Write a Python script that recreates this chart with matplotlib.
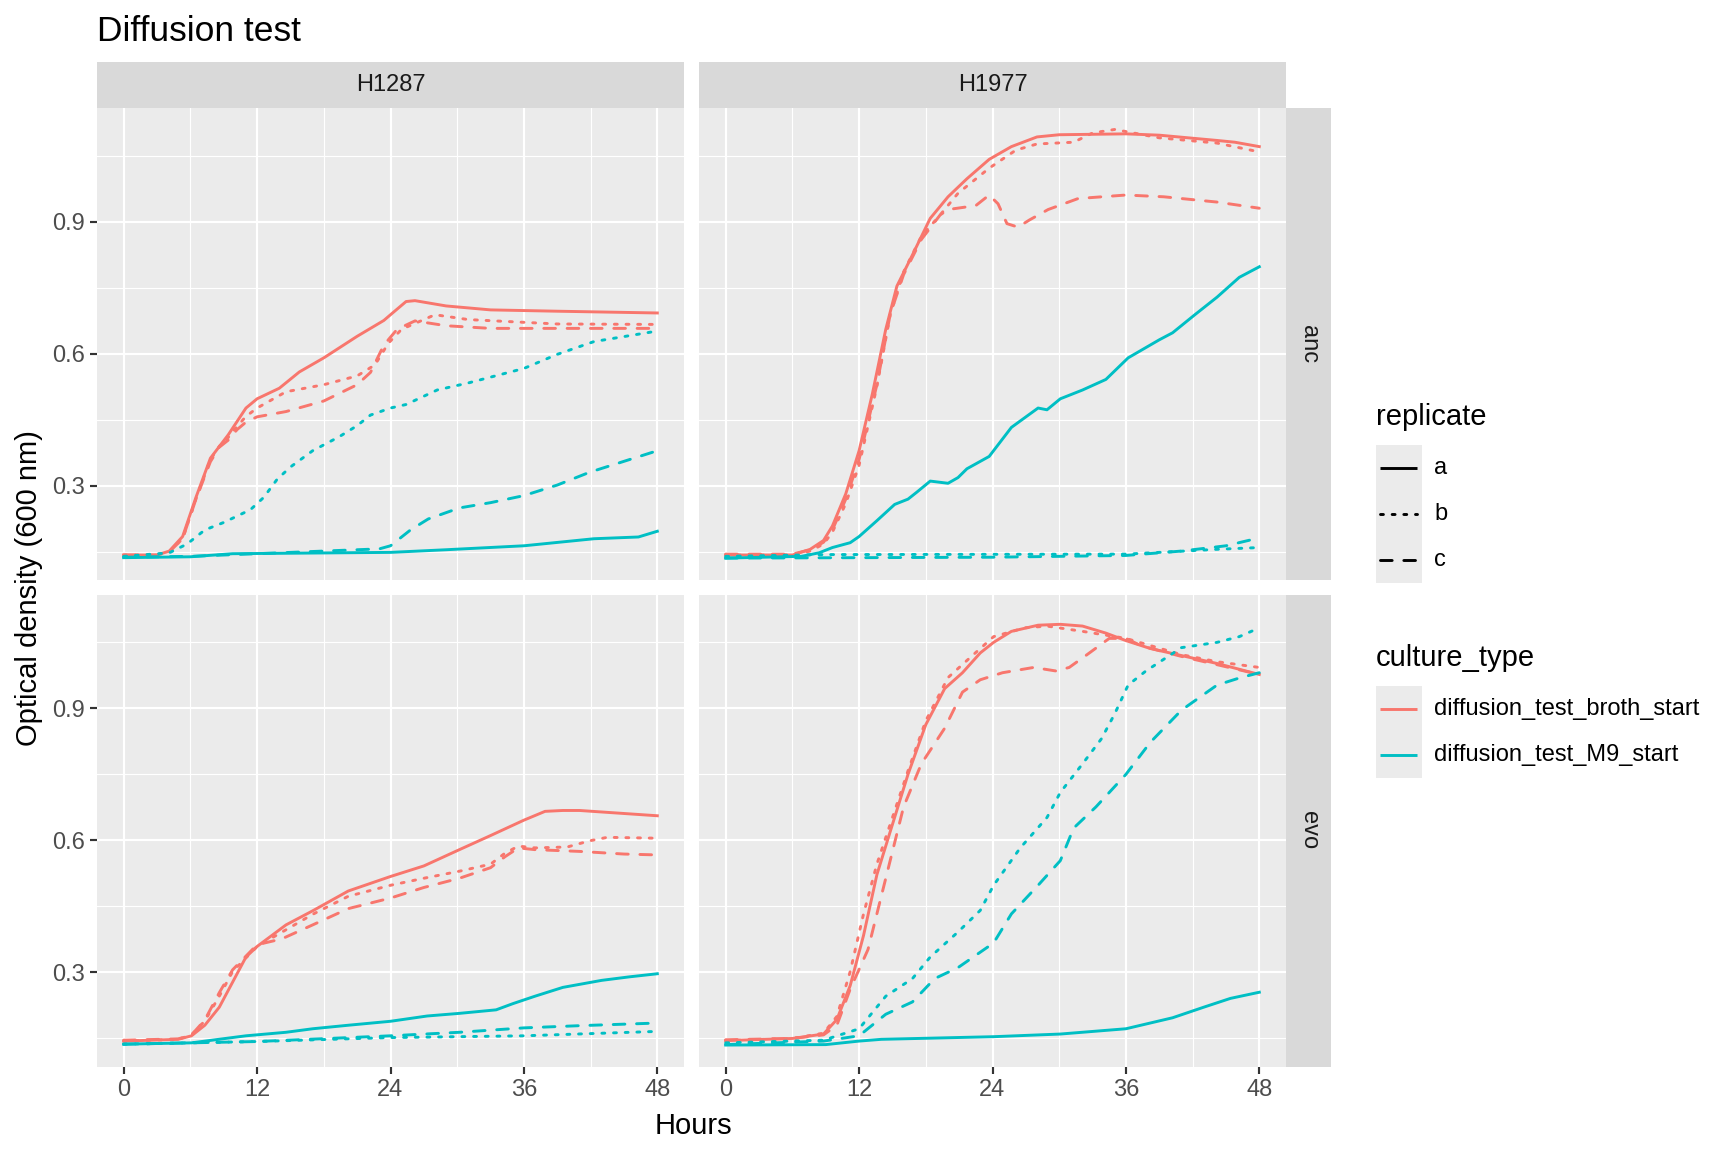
import matplotlib
matplotlib.use('Agg')
import matplotlib.pyplot as plt
from matplotlib.patches import Rectangle
from matplotlib.lines import Line2D
from matplotlib.ticker import FixedLocator

plt.rcParams['font.family'] = ['Liberation Sans', 'DejaVu Sans']

# ---------------- data (hours, OD600) ----------------
strains = ['H1287', 'H1977']
types = ['anc', 'evo']
culture_types = ['diffusion_test_broth_start', 'diffusion_test_M9_start']
replicates = ['a', 'b', 'c']
x_ticks = [0, 12, 24, 36, 48]
y_ticks = [0.3, 0.6, 0.9]
title = 'Diffusion test'
x_label = 'Hours'
y_label = 'Optical density (600 nm)'

# H1287 / anc
H1287_anc_broth_a = [(0,0.143),(3,0.143),(4.1,0.152),(5.3,0.185),(6.5,0.274),(7.8,0.363),(9.4,0.416),(11,0.477),(12,0.498),(14,0.522),(15.8,0.559),(18,0.591),(21,0.64),(23.4,0.676),(24,0.689),(25.4,0.719),(26.2,0.721),(29,0.709),(33,0.70),(39,0.697),(48,0.693)]
H1287_anc_broth_b = [(0,0.143),(3,0.143),(4.1,0.150),(5.3,0.180),(6.5,0.27),(7.8,0.36),(8.6,0.39),(9.4,0.41),(10.2,0.435),(11,0.458),(12,0.477),(14.6,0.514),(18,0.53),(21,0.55),(22.6,0.575),(23.8,0.624),(25,0.656),(28,0.689),(31,0.678),(39,0.668),(48,0.667)]
H1287_anc_broth_c = [(0,0.143),(3,0.143),(4.1,0.150),(5.3,0.18),(6.5,0.27),(7.8,0.355),(8.6,0.388),(9.4,0.404),(10.2,0.428),(11,0.445),(12,0.457),(14.6,0.469),(18,0.493),(21,0.53),(22.2,0.558),(23.4,0.62),(24.6,0.656),(26.2,0.675),(29,0.664),(33,0.658),(48,0.658)]
H1287_anc_M9_a = [(0,0.137),(6,0.139),(9.8,0.146),(24,0.149),(29,0.155),(36,0.164),(42.3,0.18),(46.3,0.184),(48,0.197)]
H1287_anc_M9_b = [(0,0.14),(4.1,0.148),(5.7,0.168),(7.3,0.2),(9,0.217),(11.4,0.246),(12.6,0.274),(13.8,0.315),(15,0.343),(17,0.38),(19.4,0.412),(21,0.437),(22.2,0.461),(24,0.477),(25.4,0.485),(28.2,0.518),(31,0.534),(36,0.567),(39,0.599),(42.3,0.628),(48,0.652)]
H1287_anc_M9_c = [(0,0.138),(6,0.14),(12,0.146),(18,0.152),(23,0.157),(24,0.164),(25.8,0.2),(27.4,0.225),(30.2,0.25),(33,0.262),(36,0.278),(39,0.302),(41.9,0.331),(48,0.38)]

# H1977 / anc
H1977_anc_broth_a = [(0,0.143),(6,0.143),(7.6,0.156),(8.8,0.176),(9.6,0.209),(10.8,0.282),(12,0.38),(13.2,0.51),(14.4,0.656),(15.4,0.754),(16.8,0.825),(18.4,0.908),(20,0.957),(21.7,0.998),(23.7,1.042),(25.7,1.071),(28,1.093),(30,1.098),(36,1.1),(39,1.097),(44.2,1.085),(45.8,1.081),(48,1.071)]
H1977_anc_broth_b = [(0,0.143),(6,0.143),(7.6,0.152),(8.8,0.168),(9.6,0.195),(10.8,0.26),(12,0.347),(13.6,0.526),(14.8,0.689),(16,0.786),(17.6,0.867),(19.3,0.916),(20.9,0.965),(23.7,1.022),(26.1,1.063),(28,1.077),(31.3,1.081),(33,1.102),(35,1.11),(39,1.091),(44.2,1.079),(48,1.059)]
H1977_anc_broth_c = [(0,0.145),(6,0.145),(7.6,0.155),(8.8,0.172),(9.6,0.2),(10.8,0.27),(12,0.36),(13.6,0.53),(14.8,0.69),(16,0.78),(17.6,0.86),(19.3,0.916),(20,0.928),(22.5,0.937),(23.7,0.961),(24.5,0.941),(25.3,0.896),(26.3,0.888),(27.3,0.904),(29,0.928),(31.7,0.953),(36,0.961),(39.4,0.957),(44.2,0.945),(48,0.931)]
H1977_anc_M9_a = [(0,0.136),(6.8,0.14),(8.4,0.148),(9.6,0.16),(11.2,0.171),(12,0.185),(13.6,0.221),(15.2,0.258),(16.4,0.27),(17.2,0.286),(18.4,0.311),(20,0.306),(20.9,0.319),(21.7,0.339),(23.7,0.367),(25.7,0.433),(28.1,0.477),(28.9,0.473),(30.1,0.498),(32.1,0.518),(34.2,0.542),(36.2,0.591),(39,0.632),(40.2,0.648),(42.2,0.689),(44.2,0.729),(46.2,0.774),(48,0.798)]
H1977_anc_M9_b = [(0,0.14),(9,0.144),(36,0.145),(44.2,0.156),(48,0.16)]
H1977_anc_M9_c = [(0,0.136),(24,0.138),(36,0.142),(41,0.152),(45,0.164),(48,0.182)]

# H1287 / evo
H1287_evo_broth_a = [(0,0.144),(4.9,0.148),(6.1,0.156),(7.3,0.18),(8.6,0.221),(9.8,0.278),(11,0.335),(12,0.359),(14.6,0.408),(17,0.44),(20.2,0.485),(24,0.518),(27,0.542),(30.2,0.579),(33,0.611),(36,0.646),(37.9,0.666),(39.5,0.668),(41,0.668),(48,0.656)]
H1287_evo_broth_b = [(0,0.144),(4.9,0.148),(6.1,0.158),(7.3,0.19),(8.6,0.246),(9.8,0.302),(12,0.359),(17,0.432),(20.2,0.473),(24,0.498),(27,0.514),(30.2,0.53),(33,0.546),(34.3,0.571),(35.5,0.587),(37,0.583),(39.9,0.585),(41.9,0.599),(43.5,0.607),(48,0.605)]
H1287_evo_broth_c = [(0,0.146),(4.9,0.149),(6.1,0.158),(7.3,0.192),(8.6,0.254),(9.8,0.306),(12,0.363),(14.2,0.376),(17,0.408),(20.2,0.445),(24,0.469),(27,0.493),(30.2,0.514),(33,0.538),(34.3,0.563),(35.5,0.583),(37,0.579),(41,0.575),(45,0.569),(48,0.567)]
H1287_evo_M9_a = [(0,0.137),(6.1,0.14),(11,0.156),(14.6,0.164),(17,0.172),(20.2,0.18),(24,0.189),(27.3,0.201),(30.2,0.207),(33.5,0.215),(35,0.229),(37,0.246),(39.5,0.266),(43,0.282),(45.5,0.29),(48,0.297)]
H1287_evo_M9_b = [(0,0.137),(12,0.143),(24,0.152),(36,0.156),(48,0.166)]
H1287_evo_M9_c = [(0,0.137),(12,0.143),(24,0.156),(30.2,0.164),(36,0.174),(41,0.179),(48,0.185)]

# H1977 / evo
H1977_evo_broth_a = [(0,0.145),(6,0.15),(8.8,0.16),(10,0.193),(11.2,0.27),(12.4,0.384),(13.6,0.522),(14.8,0.62),(16.4,0.75),(18,0.863),(19.7,0.945),(21.3,0.981),(22.9,1.026),(24.1,1.05),(25.7,1.075),(28.1,1.089),(30.1,1.091),(32.1,1.087),(34.2,1.071),(36,1.054),(38.2,1.036),(41,1.02),(44.2,1.002),(48,0.977)]
H1977_evo_broth_b = [(0,0.145),(6,0.15),(8.8,0.162),(10,0.2),(11.2,0.302),(12.4,0.433),(13.6,0.546),(16.4,0.758),(18,0.872),(20,0.97),(22.1,1.018),(24.1,1.063),(26.9,1.083),(28.9,1.087),(32.1,1.075),(36,1.059),(41,1.022),(44.2,1.006),(48,0.993)]
H1977_evo_broth_c = [(0,0.147),(6,0.15),(8.8,0.158),(10,0.18),(11.2,0.262),(12.8,0.352),(14.4,0.514),(16,0.676),(17.6,0.774),(19.7,0.855),(21.3,0.937),(22.9,0.965),(24.9,0.981),(27.7,0.993),(29.7,0.985),(30.9,0.993),(32.5,1.022),(34.5,1.059),(36,1.059),(37.4,1.042),(41,1.018),(48,0.977)]
H1977_evo_M9_a = [(0,0.135),(9,0.136),(12,0.144),(14,0.148),(24.1,0.154),(30.1,0.16),(36,0.172),(40.2,0.197),(43,0.221),(45.4,0.241),(48,0.255)]
H1977_evo_M9_b = [(0,0.14),(8.8,0.146),(12,0.172),(14.4,0.246),(16.8,0.286),(18.4,0.335),(20.9,0.392),(22.9,0.441),(24.1,0.498),(26.5,0.583),(28.9,0.652),(30.1,0.709),(32.1,0.774),(33.8,0.831),(35,0.888),(36.2,0.953),(37.8,0.985),(41,1.038),(44.2,1.05),(46.2,1.063),(48,1.083)]
H1977_evo_M9_c = [(0,0.136),(8.8,0.144),(12,0.156),(14.4,0.205),(16.8,0.233),(18.8,0.286),(20.9,0.311),(24.1,0.367),(25.7,0.433),(28.1,0.498),(30.1,0.554),(31.3,0.628),(33.3,0.676),(36,0.75),(38.2,0.823),(41,0.896),(44.2,0.953),(46.2,0.969),(48,0.981)]

series = {
    ('H1287', 'anc'): {('diffusion_test_broth_start', 'a'): H1287_anc_broth_a, ('diffusion_test_broth_start', 'b'): H1287_anc_broth_b, ('diffusion_test_broth_start', 'c'): H1287_anc_broth_c,
                       ('diffusion_test_M9_start', 'a'): H1287_anc_M9_a, ('diffusion_test_M9_start', 'b'): H1287_anc_M9_b, ('diffusion_test_M9_start', 'c'): H1287_anc_M9_c},
    ('H1977', 'anc'): {('diffusion_test_broth_start', 'a'): H1977_anc_broth_a, ('diffusion_test_broth_start', 'b'): H1977_anc_broth_b, ('diffusion_test_broth_start', 'c'): H1977_anc_broth_c,
                       ('diffusion_test_M9_start', 'a'): H1977_anc_M9_a, ('diffusion_test_M9_start', 'b'): H1977_anc_M9_b, ('diffusion_test_M9_start', 'c'): H1977_anc_M9_c},
    ('H1287', 'evo'): {('diffusion_test_broth_start', 'a'): H1287_evo_broth_a, ('diffusion_test_broth_start', 'b'): H1287_evo_broth_b, ('diffusion_test_broth_start', 'c'): H1287_evo_broth_c,
                       ('diffusion_test_M9_start', 'a'): H1287_evo_M9_a, ('diffusion_test_M9_start', 'b'): H1287_evo_M9_b, ('diffusion_test_M9_start', 'c'): H1287_evo_M9_c},
    ('H1977', 'evo'): {('diffusion_test_broth_start', 'a'): H1977_evo_broth_a, ('diffusion_test_broth_start', 'b'): H1977_evo_broth_b, ('diffusion_test_broth_start', 'c'): H1977_evo_broth_c,
                       ('diffusion_test_M9_start', 'a'): H1977_evo_M9_a, ('diffusion_test_M9_start', 'b'): H1977_evo_M9_b, ('diffusion_test_M9_start', 'c'): H1977_evo_M9_c},
}

# ---------------- styling ----------------
colors = {'diffusion_test_broth_start': '#F8766D', 'diffusion_test_M9_start': '#00BFC4'}
linestyles = {'a': '-', 'b': (0, (1, 3)), 'c': (0, (4, 4))}
LW = 2.1
PANEL_BG = '#EBEBEB'
STRIP_BG = '#D9D9D9'
FS_SMALL = 17
FS_AXIS = 21
FS_TITLE = 25.5

W, H = 1728, 1152
fig = plt.figure(figsize=(W / 100, H / 100), dpi=100)

def fx(x):
    return x / W

def fy(y):
    return 1 - y / H

col_x = [(97, 684), (699, 1286)]
row_y = [(108, 580), (594.5, 1066.5)]
strip_top = (62.5, 108)
strip_right = (1286, 1331)

all_y = [v for d in series.values() for s in d.values() for _, v in s]
ymin, ymax = min(all_y), max(all_y)
ypad = (ymax - ymin) * 0.05
xpad = 48 * 0.05

for r, typ in enumerate(types):
    for c, strain in enumerate(strains):
        x0, x1 = col_x[c]
        y0, y1 = row_y[r]
        ax = fig.add_axes([fx(x0), fy(y1), fx(x1) - fx(x0), fy(y0) - fy(y1)])
        ax.set_facecolor(PANEL_BG)
        for sp in ax.spines.values():
            sp.set_visible(False)
        ax.set_xlim(0 - xpad, 48 + xpad)
        ax.set_ylim(ymin - ypad, ymax + ypad)
        ax.xaxis.set_major_locator(FixedLocator(x_ticks))
        ax.yaxis.set_major_locator(FixedLocator(y_ticks))
        ax.xaxis.set_minor_locator(FixedLocator([6, 18, 30, 42]))
        ax.yaxis.set_minor_locator(FixedLocator([0.15, 0.45, 0.75, 1.05]))
        ax.grid(which='major', color='white', linewidth=1.55)
        ax.grid(which='minor', color='white', linewidth=0.8)
        ax.set_axisbelow(True)
        ax.tick_params(which='minor', length=0)
        ax.tick_params(which='major', length=5.3, width=1.55, color='#333333',
                       labelcolor='#4D4D4D', labelsize=FS_SMALL, pad=3.5)
        if c == 0:
            ax.set_yticklabels([f'{v:.1f}' for v in y_ticks])
        else:
            ax.tick_params(axis='y', length=0, labelleft=False)
        if r == 1:
            ax.set_xticklabels([str(v) for v in x_ticks])
        else:
            ax.tick_params(axis='x', length=0, labelbottom=False)
        for ct in culture_types:
            for rep in replicates:
                pts = series[(strain, typ)][(ct, rep)]
                ax.plot([p[0] for p in pts], [p[1] for p in pts], color=colors[ct],
                        linestyle=linestyles[rep], linewidth=LW,
                        solid_joinstyle='round', dash_capstyle='round', dash_joinstyle='round')

# top strips
for c, strain in enumerate(strains):
    x0, x1 = col_x[c]
    fig.patches.append(Rectangle((fx(x0), fy(strip_top[1])), fx(x1) - fx(x0), fy(strip_top[0]) - fy(strip_top[1]),
                                 transform=fig.transFigure, facecolor=STRIP_BG, edgecolor='none'))
    fig.text(fx((x0 + x1) / 2), fy((strip_top[0] + strip_top[1]) / 2), strain, ha='center', va='center',
             fontsize=FS_SMALL, color='#1A1A1A')
# right strips
for r, typ in enumerate(types):
    y0, y1 = row_y[r]
    fig.patches.append(Rectangle((fx(strip_right[0]), fy(y1)), fx(strip_right[1]) - fx(strip_right[0]), fy(y0) - fy(y1),
                                 transform=fig.transFigure, facecolor=STRIP_BG, edgecolor='none'))
    fig.text(fx((strip_right[0] + strip_right[1]) / 2), fy((y0 + y1) / 2), typ, ha='center', va='center',
             rotation=270, fontsize=FS_SMALL, color='#1A1A1A')

# titles
fig.text(fx(97), fy(41), title, ha='left', va='baseline', fontsize=FS_TITLE, color='black')
fig.text(fx(693), fy(1126), x_label, ha='center', va='center', fontsize=FS_AXIS, color='black')
fig.text(fx(29), fy(588), y_label, ha='center', va='center', rotation=90, fontsize=FS_AXIS, color='black')

# legends
LEG_X = 1376
def legend_block(title_txt, title_base, key_top, labels, line_colors, line_styles):
    fig.text(fx(LEG_X), fy(title_base), title_txt, ha='left', va='baseline', fontsize=FS_AXIS, color='black')
    kh = 46
    for i, lab in enumerate(labels):
        ky0 = key_top + i * kh
        fig.patches.append(Rectangle((fx(LEG_X), fy(ky0 + kh)), fx(LEG_X + 46) - fx(LEG_X), fy(ky0) - fy(ky0 + kh),
                                     transform=fig.transFigure, facecolor=PANEL_BG, edgecolor='none'))
        cy = ky0 + kh / 2
        fig.add_artist(Line2D([fx(LEG_X + 4), fx(LEG_X + 41)], [fy(cy), fy(cy)], transform=fig.transFigure,
                              color=line_colors[i], linestyle=line_styles[i], linewidth=LW,
                              dash_capstyle='round', solid_capstyle='butt'))
        fig.text(fx(LEG_X + 58), fy(cy), lab, ha='left', va='center', fontsize=FS_SMALL, color='black')

legend_block('replicate', 425, 445, replicates, ['black'] * 3, [linestyles[k] for k in replicates])
legend_block('culture_type', 666, 686, culture_types, [colors[k] for k in culture_types], ['-', '-'])

fig.savefig('out.png', dpi=100, facecolor='white')
